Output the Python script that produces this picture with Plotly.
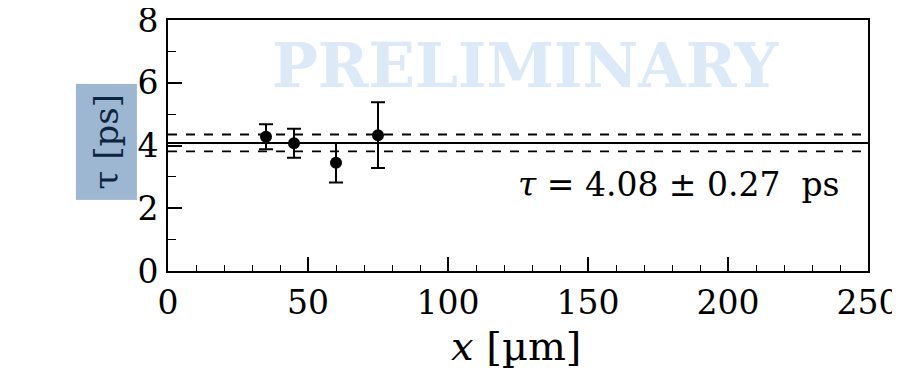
import plotly.graph_objects as go

x_pos = [35, 45, 60, 75]
tau = [4.28, 4.07, 3.45, 4.33]
tau_err = [0.40, 0.46, 0.63, 1.05]
fit_val = 4.08
fit_err = 0.27
x_range = [0, 250]
y_range = [0, 8]

SERIF = "DejaVu Serif, serif"
NB = "\u00a0"

fig = go.Figure()
fig.add_trace(go.Scatter(
    x=x_pos, y=tau, mode="markers",
    marker=dict(color="black", size=12),
    error_y=dict(type="data", array=tau_err, color="black", thickness=2, width=7),
    showlegend=False, cliponaxis=False,
))

fig.add_hline(y=fit_val, line=dict(color="black", width=2.2))
fig.add_hline(y=fit_val + fit_err, line=dict(color="black", width=1.8, dash="dash"))
fig.add_hline(y=fit_val - fit_err, line=dict(color="black", width=1.8, dash="dash"))

axis_common = dict(
    showgrid=False, zeroline=False, showline=True, linecolor="black", linewidth=2,
    mirror=True, ticks="inside", ticklen=14, tickwidth=1.5, tickcolor="black",
    tickfont=dict(family=SERIF, size=33, color="black"), automargin=False,
    ticklabeloverflow="allow",
)
fig.update_xaxes(range=x_range, dtick=50, tick0=0,
                 minor=dict(ticks="inside", ticklen=6, tickwidth=1.2, dtick=10, tickcolor="black"),
                 ticklabelstandoff=1,
                 **axis_common)
fig.update_yaxes(range=y_range, dtick=2, tick0=0,
                 minor=dict(ticks="inside", ticklen=8, tickwidth=1.2, dtick=1, tickcolor="black"),
                 ticklabelstandoff=1,
                 **axis_common)

fig.add_annotation(
    text="<i>x</i> [µm]", xref="paper", yref="paper", x=0.497, y=-0.30,
    xanchor="center", yanchor="middle", showarrow=False,
    font=dict(family=SERIF, size=40, color="black"),
)
fig.add_annotation(
    text="τ [ps]", textangle=-90, xref="paper", yref="paper",
    x=-0.088, y=0.514, xanchor="center", yanchor="middle", showarrow=False,
    font=dict(family=SERIF, size=34, color="#0b2440"),
    bgcolor="#9db6d2", borderpad=10,
)
fig.add_annotation(
    text="PRELIMINARY", xref="paper", yref="paper", x=0.51, y=0.819,
    xanchor="center", yanchor="middle", showarrow=False,
    font=dict(family=SERIF, size=61, color="#dce9f6", weight="bold"),
)
fig.add_annotation(
    text=f"<i>τ</i>{NB}={NB}{fit_val:.2f}{NB}±{NB}{fit_err:.2f}{NB}{NB}ps",
    xref="paper", yref="paper",
    x=0.963, y=0.343, xanchor="right", yanchor="middle", showarrow=False,
    font=dict(family=SERIF, size=33, color="black"),
)

# the source image is cropped just past the right plot edge
fig.add_shape(type="rect", xref="paper", yref="paper",
              x0=1.0343, x1=1.3, y0=-0.7, y1=1.2,
              fillcolor="white", line=dict(width=0), layer="above")

fig.update_layout(
    width=910, height=376,
    margin=dict(l=160, r=50, t=12, b=113),
    plot_bgcolor="white", paper_bgcolor="white",
)
fig.write_html("out.html")
